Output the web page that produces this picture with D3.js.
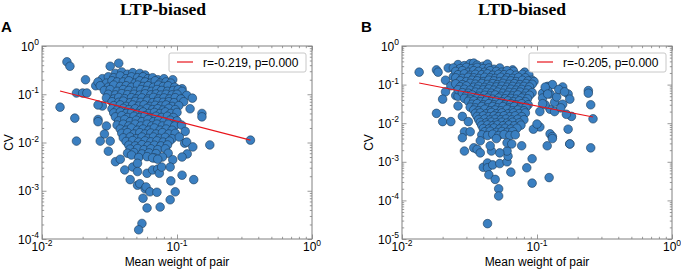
<!DOCTYPE html>
<html>
<head>
<meta charset="utf-8">
<script src="https://cdn.jsdelivr.net/npm/d3@7"></script>
<style>
  body { margin: 0; background: #fff; }
  svg { display: block; }
</style>
</head>
<body>
<div id="chart"></div>
<script>
// CV of pair weights vs mean weight of pair, for the LTP-biased and LTD-biased cases
// values, [mean weight, CV]

const panelTitles = ["LTP-biased", "LTD-biased"]
const panelLetters = ["A", "B"]
const legendTexts = ["r=-0.219, p=0.000", "r=-0.205, p=0.000"]
const xTickValues = [1e-2, 1e-1, 1e0]
const yTickValuesA = [1e-4, 1e-3, 1e-2, 1e-1, 1e0]
const yTickValuesB = [1e-5, 1e-4, 1e-3, 1e-2, 1e-1, 1e0]

// regression line end points
const fitA = [[0.0136, 0.117], [0.35, 0.0112]]
const fitB = [[0.0134, 0.11], [0.26, 0.0145]]

const ltpPoints = [
  [.0153,.47],[.0161,.38],[.0136,.054],[.0175,.032],[.021,.2],[.018,.106],[.020,.106],[.0215,.106],
  [.032,.38],[.037,.44],[.025,.15],[.027,.16],[.028,.057],
  [.035,.27],[.039,.29],[.043,.26],[.047,.28],[.053,.27],[.058,.25],
  [.028,.21],[.031,.23],[.034,.22],[.038,.24],[.042,.21],[.046,.23],[.051,.22],[.056,.23],[.061,.21],[.066,.22],[.072,.2],[.08,.21],[.093,.2],
  [.026,.18],[.03,.17],[.033,.19],[.036,.18],[.04,.18],[.044,.19],[.049,.17],[.053,.19],[.058,.18],[.064,.17],[.069,.19],[.075,.17],[.083,.18],[.09,.17],
  [.027,.15],[.031,.14],[.034,.155],[.038,.145],[.042,.15],[.046,.14],[.051,.155],[.056,.145],[.061,.15],[.067,.14],[.073,.155],[.079,.145],[.086,.15],[.096,.14],[.109,.13],
  [.029,.12],[.032,.125],[.036,.115],[.04,.125],[.044,.12],[.049,.115],[.054,.125],[.059,.12],[.065,.115],[.071,.125],[.077,.12],[.085,.115],[.094,.12],[.102,.125],[.109,.115],
  [.031,.1],[.035,.097],[.039,.103],[.043,.098],[.048,.1],[.053,.096],[.058,.102],[.064,.097],[.07,.101],[.076,.096],[.083,.1],[.092,.097],[.1,.1],[.118,.095],
  [.03,.084],[.034,.08],[.037,.086],[.041,.081],[.046,.085],[.05,.08],[.055,.084],[.061,.08],[.067,.086],[.073,.08],[.08,.084],[.088,.08],[.097,.085],[.107,.08],[.13,.083],
  [.033,.07],[.037,.068],[.04,.072],[.045,.067],[.049,.071],[.054,.068],[.06,.072],[.066,.067],[.072,.071],[.079,.068],[.087,.07],[.095,.067],[.112,.07],
  [.026,.06],[.034,.058],[.038,.06],[.042,.056],[.047,.06],[.052,.057],[.057,.06],[.063,.056],[.069,.059],[.076,.057],[.083,.06],[.092,.056],[.103,.058],
  [.033,.05],[.036,.047],[.04,.051],[.044,.048],[.049,.05],[.054,.047],[.06,.051],[.066,.048],[.072,.05],[.079,.047],[.087,.051],[.097,.048],[.125,.05],
  [.034,.041],[.038,.043],[.042,.04],[.046,.042],[.051,.04],[.056,.043],[.062,.04],[.068,.042],[.075,.04],[.082,.043],[.09,.04],[.1,.042],[.153,.04],
  [.026,.03],[.035,.034],[.039,.036],[.043,.033],[.048,.035],[.053,.033],[.058,.036],[.064,.033],[.07,.035],[.077,.033],[.085,.035],[.094,.033],[.153,.034],
  [.026,.027],[.037,.028],[.041,.03],[.045,.027],[.05,.029],[.055,.027],[.061,.03],[.067,.027],[.073,.029],[.08,.027],[.089,.029],[.1,.028],
  [.03,.022],[.036,.023],[.04,.024],[.044,.022],[.049,.024],[.054,.022],[.06,.024],[.065,.022],[.071,.024],[.078,.022],[.086,.024],[.096,.022],[.108,.023],
  [.038,.019],[.042,.018],[.046,.02],[.051,.018],[.056,.019],[.062,.018],[.068,.02],[.075,.018],[.083,.019],[.092,.018],[.115,.017],
  [.029,.015],[.039,.0155],[.043,.016],[.048,.015],[.053,.016],[.058,.015],[.064,.0157],[.07,.015],[.078,.016],[.087,.015],[.097,.0155],
  [.04,.0125],[.045,.013],[.05,.012],[.055,.013],[.061,.0122],[.067,.013],[.074,.0122],[.082,.0128],[.092,.012],[.104,.013],
  [.018,.0107],[.027,.0107],[.032,.0107],[.042,.0105],[.047,.011],[.052,.0102],[.058,.0108],[.064,.0103],[.071,.0108],[.079,.0102],[.088,.0107],[.114,.0097],[.118,.0102],[.175,.0089],
  [.044,.0088],[.049,.0085],[.055,.009],[.061,.0085],[.068,.0088],[.076,.0085],[.085,.0089],[.131,.0081],
  [.045,.0073],[.051,.0075],[.057,.0071],[.064,.0074],[.072,.0071],[.082,.0074],
  [.031,.0066],[.043,.006],[.048,.0062],[.055,.0058],[.062,.0061],[.07,.0059],[.086,.006],[.119,.0058],
  [.046,.0055],[.052,.0049],[.06,.0051],[.068,.0048],[.078,.005],[.093,.0044],[.109,.005],
  [.035,.004],[.038,.0045],[.041,.0027],[.045,.0017],[.047,.0031],[.051,.0037],[.051,.0025],[.051,.0013],
  [.053,.0014],[.058,.0011],[.059,.0012],[.06,.0023],[.063,.00095],[.066,.0027],[.066,.0048],[.072,.0028],
  [.072,.0045],[.074,.0023],[.077,.0031],[.056,.0007],[.06,.00044],[.075,.00046],[.055,.00021],[.052,.000155],
  [.089,.00065],[.097,.00095],[.09,.0016],[.071,.00093],[.109,.0021],[.133,.0017],[.089,.0031],
  [.35,.0112]
]

const ltdPoints = [
  [.0134,.21],[.018,.24],[.0185,.21],[.022,.27],[.021,.13],[.023,.093],[.024,.16],[.021,.065],[.02,.042],
  [.025,.052],[.026,.028],[.018,.018],[.02,.011],[.023,.011],[.028,.015],[.026,.05],[.029,.006],[.032,.006],[.031,.011],
  [.026,.33],[.029,.31],[.032,.35],[.034,.36],[.036,.32],[.04,.3],[.043,.34],
  [.024,.27],[.027,.26],[.03,.28],[.033,.26],[.036,.28],[.04,.26],[.044,.27],[.048,.25],[.053,.27],[.066,.24],
  [.025,.22],[.028,.23],[.031,.21],[.034,.23],[.037,.22],[.041,.21],[.045,.23],[.05,.22],[.055,.21],[.06,.23],[.067,.22],[.081,.21],
  [.026,.18],[.029,.19],[.032,.175],[.035,.185],[.039,.18],[.043,.19],[.047,.175],[.052,.185],[.057,.18],[.063,.19],[.07,.175],[.078,.185],[.087,.18],
  [.025,.15],[.028,.145],[.031,.155],[.034,.15],[.037,.145],[.041,.155],[.045,.15],[.049,.145],[.054,.155],[.06,.15],[.066,.145],[.073,.155],[.082,.15],[.092,.13],
  [.027,.125],[.03,.12],[.033,.13],[.036,.125],[.04,.12],[.044,.13],[.048,.125],[.053,.12],[.058,.13],[.064,.125],[.07,.12],[.078,.13],[.086,.125],[.095,.12],
  [.025,.105],[.028,.1],[.032,.108],[.035,.103],[.039,.107],[.043,.101],[.047,.106],[.051,.1],[.056,.108],[.062,.102],[.068,.106],[.075,.1],[.083,.107],[.092,.102],
  [.027,.088],[.03,.092],[.034,.086],[.037,.09],[.041,.085],[.045,.09],[.05,.087],[.055,.091],[.06,.086],[.066,.09],[.073,.086],[.08,.09],[.088,.087],
  [.026,.074],[.029,.076],[.032,.072],[.036,.076],[.04,.073],[.044,.077],[.048,.072],[.053,.075],[.058,.073],[.064,.076],[.07,.072],[.077,.075],[.086,.073],
  [.028,.062],[.031,.06],[.035,.064],[.038,.061],[.042,.063],[.046,.06],[.051,.064],[.056,.06],[.062,.063],[.068,.061],[.075,.064],[.083,.06],[.092,.062],
  [.03,.052],[.033,.054],[.037,.05],[.041,.053],[.045,.051],[.049,.054],[.054,.05],[.06,.053],[.066,.051],[.072,.054],[.08,.05],[.088,.053],
  [.029,.044],[.032,.042],[.036,.045],[.039,.043],[.043,.045],[.047,.042],[.052,.045],[.058,.043],[.064,.044],[.07,.042],[.077,.045],[.085,.043],
  [.031,.037],[.034,.038],[.038,.036],[.042,.038],[.046,.036],[.05,.038],[.055,.036],[.061,.038],[.067,.036],[.074,.038],[.082,.036],
  [.033,.031],[.036,.032],[.04,.03],[.044,.032],[.048,.03],[.053,.032],[.058,.03],[.064,.032],[.07,.03],[.077,.032],[.086,.03],
  [.032,.026],[.035,.025],[.039,.027],[.043,.025],[.047,.027],[.051,.025],[.056,.027],[.062,.025],[.068,.027],[.075,.025],[.083,.026],
  [.034,.022],[.037,.021],[.041,.023],[.045,.021],[.049,.022],[.054,.021],[.06,.023],[.066,.021],[.072,.022],[.08,.021],
  [.035,.018],[.038,.0185],[.042,.0175],[.046,.019],[.05,.0175],[.055,.0185],[.061,.0175],[.067,.0185],[.074,.0178],[.082,.0185],
  [.036,.015],[.04,.0155],[.044,.0148],[.048,.0155],[.052,.0147],[.057,.0156],[.063,.0148],[.069,.0155],[.077,.0148],
  [.037,.0125],[.041,.0128],[.045,.0122],[.049,.0127],[.054,.0123],[.059,.0128],[.065,.0122],[.072,.0127],[.08,.0123],
  [.038,.0105],[.042,.0102],[.046,.0107],[.05,.0102],[.055,.0106],[.06,.0101],[.066,.0106],[.074,.0102],
  [.039,.0088],[.043,.009],[.047,.0086],[.051,.009],[.056,.0086],[.062,.009],[.068,.0086],[.076,.0089],
  [.04,.0073],[.044,.0071],[.048,.0075],[.053,.0071],[.058,.0074],[.064,.0071],[.071,.0074],
  [.041,.006],[.045,.0062],[.05,.0058],[.055,.0061],[.06,.0058],[.066,.0061],
  [.039,.005],[.043,.0048],[.047,.0052],[.052,.0048],[.057,.0051],[.063,.0048],[.069,.005],
  [.12,.09],[.13,.1],[.155,.087],[.17,.057],[.175,.042],[.24,.07],[.24,.06],[.25,.03],[.26,.013],[.18,.015],
  [.165,.017],[.125,.023],[.115,.03],[.135,.035],[.125,.057],[.14,.048],[.155,.031],[.105,.008],[.094,.007],
  [.125,.0053],[.13,.0045],[.17,.007],[.175,.0029],[.11,.06],[.12,.07],[.145,.075],[.16,.065],[.11,.045],
  [.135,.02],[.15,.025],[.115,.086],[.12,.057],[.11,.032],[.105,.02],[.1,.0095],
  [.028,.0042],[.029,.0019],[.034,.0023],[.036,.0021],[.038,.0017],[.04,.00072],[.043,.00093],[.043,.0007],
  [.047,.00083],[.044,.00046],[.049,.00035],[.052,.0002],[.052,.00013],[.043,.000025],[.064,.00054],
  [.084,.0007],[.092,.0012],[.092,.00028],[.123,.00039],[.119,.0026],[.175,.0029],[.25,.0023],[.077,.0026],
  [.13,.004],[.053,.0009],[.06,.001],[.061,.0014],[.06,.0019],[.053,.0017],[.046,.0019],[.045,.0026],
  [.05,.004],[.038,.0035],[.06,.0031],[.065,.0029]
]

const width = 681, height = 272

// the two panels share the x range, only the y range differs
const panels = [
  { left: 42, right: 312, top: 46, bottom: 239, yDomain: [1e-4, 1], yTicks: yTickValuesA, points: ltpPoints, fit: fitA, titleX: 163, letterX: 1 },
  { left: 402, right: 672, top: 46, bottom: 239, yDomain: [1e-5, 1], yTicks: yTickValuesB, points: ltdPoints, fit: fitB, titleX: 522, letterX: 361 }
]

const svg = d3.select("#chart")
  .append("svg")
  .attr("width", width)
  .attr("height", height)
  .style("font-family", "'Liberation Sans', Arial, sans-serif")

const frameColor = "#808080"

panels.forEach(function (p, i) {

  const x = d3.scaleLog().domain([1e-2, 1]).range([p.left, p.right])
  const y = d3.scaleLog().domain(p.yDomain).range([p.bottom, p.top])

  const g = svg.append("g")

  // minor + major ticks, pointing inwards, on all four sides
  const xMinor = x.ticks().filter(v => !xTickValues.some(t => Math.abs(t - v) / t < 1e-9))
  const yMinor = y.ticks().filter(v => !p.yTicks.some(t => Math.abs(t - v) / t < 1e-9))

  const addAxis = function (axis, tr) {
    const a = g.append("g").attr("transform", tr).call(axis)
    a.select(".domain").remove()
    a.selectAll("line").attr("stroke", frameColor).attr("stroke-width", 0.8)
    a.selectAll("text").remove()
  }
  addAxis(d3.axisBottom(x).tickValues(xTickValues).tickSize(-4.5), `translate(0,${p.bottom})`)
  addAxis(d3.axisBottom(x).tickValues(xMinor).tickSize(-2.2), `translate(0,${p.bottom})`)
  addAxis(d3.axisTop(x).tickValues(xTickValues).tickSize(-4.5), `translate(0,${p.top})`)
  addAxis(d3.axisTop(x).tickValues(xMinor).tickSize(-2.2), `translate(0,${p.top})`)
  addAxis(d3.axisLeft(y).tickValues(p.yTicks).tickSize(-4.5), `translate(${p.left},0)`)
  addAxis(d3.axisLeft(y).tickValues(yMinor).tickSize(-2.2), `translate(${p.left},0)`)
  addAxis(d3.axisRight(y).tickValues(p.yTicks).tickSize(-4.5), `translate(${p.right},0)`)
  addAxis(d3.axisRight(y).tickValues(yMinor).tickSize(-2.2), `translate(${p.right},0)`)

  // points
  g.append("g")
    .selectAll("circle")
    .data(p.points)
    .enter()
    .append("circle")
    .attr("cx", d => x(d[0]))
    .attr("cy", d => y(d[1]))
    .attr("r", 4.3)
    .style("fill", "#3a7fc1")
    .style("stroke", "#1d3a57")
    .style("stroke-width", 0.6)

  // regression line
  g.append("path")
    .datum(p.fit)
    .attr("d", d3.line().x(d => x(d[0])).y(d => y(d[1])))
    .attr("fill", "none")
    .attr("stroke", "#e8141b")
    .attr("stroke-width", 1.2)

  // frame
  g.append("rect")
    .attr("x", p.left).attr("y", p.top)
    .attr("width", p.right - p.left).attr("height", p.bottom - p.top)
    .attr("fill", "none")
    .attr("stroke", frameColor)
    .attr("stroke-width", 1)

  // tick labels as 10 with a superscript exponent
  const expLabel = function (sel, v) {
    sel.append("tspan").text("10")
    sel.append("tspan")
      .attr("dy", -5.5)
      .attr("font-size", 8.5)
      .text(Math.round(Math.log10(v)))
  }
  xTickValues.forEach(function (v) {
    g.append("text")
      .attr("x", x(v)).attr("y", p.bottom + 12)
      .attr("text-anchor", "middle")
      .attr("font-size", 12)
      .attr("fill", "#000")
      .call(expLabel, v)
  })
  p.yTicks.forEach(function (v) {
    g.append("text")
      .attr("x", p.left - 3).attr("y", y(v) + 4.5)
      .attr("text-anchor", "end")
      .attr("font-size", 12)
      .attr("fill", "#000")
      .call(expLabel, v)
  })

  // axis titles
  g.append("text")
    .attr("x", (p.left + p.right) / 2).attr("y", 266)
    .attr("text-anchor", "middle")
    .attr("font-size", 12)
    .text("Mean weight of pair")
  g.append("text")
    .attr("transform", `translate(${p.left - 29},${(p.top + p.bottom) / 2}) rotate(-90)`)
    .attr("text-anchor", "middle")
    .attr("font-size", 12)
    .text("CV")

  // legend
  const lx = p.left + 127, ly = 53
  g.append("rect")
    .attr("x", lx).attr("y", ly).attr("width", 137).attr("height", 19)
    .attr("rx", 2)
    .attr("fill", "#fff")
    .attr("stroke", "#c8c8c8")
  g.append("line")
    .attr("x1", lx + 8).attr("x2", lx + 24)
    .attr("y1", ly + 9).attr("y2", ly + 9)
    .attr("stroke", "#e8141b").attr("stroke-width", 1.2)
  g.append("text")
    .attr("x", lx + 34).attr("y", ly + 13.5)
    .attr("font-size", 12)
    .text(legendTexts[i])

  // panel title and letter
  svg.append("text")
    .attr("x", p.titleX).attr("y", 15)
    .attr("text-anchor", "middle")
    .style("font-family", "'Liberation Serif', 'Times New Roman', serif")
    .style("font-weight", "bold")
    .attr("font-size", 17.5)
    .text(panelTitles[i])
  svg.append("text")
    .attr("x", p.letterX).attr("y", 32)
    .style("font-weight", "bold")
    .attr("font-size", 15)
    .text(panelLetters[i])
})
</script>
</body>
</html>
